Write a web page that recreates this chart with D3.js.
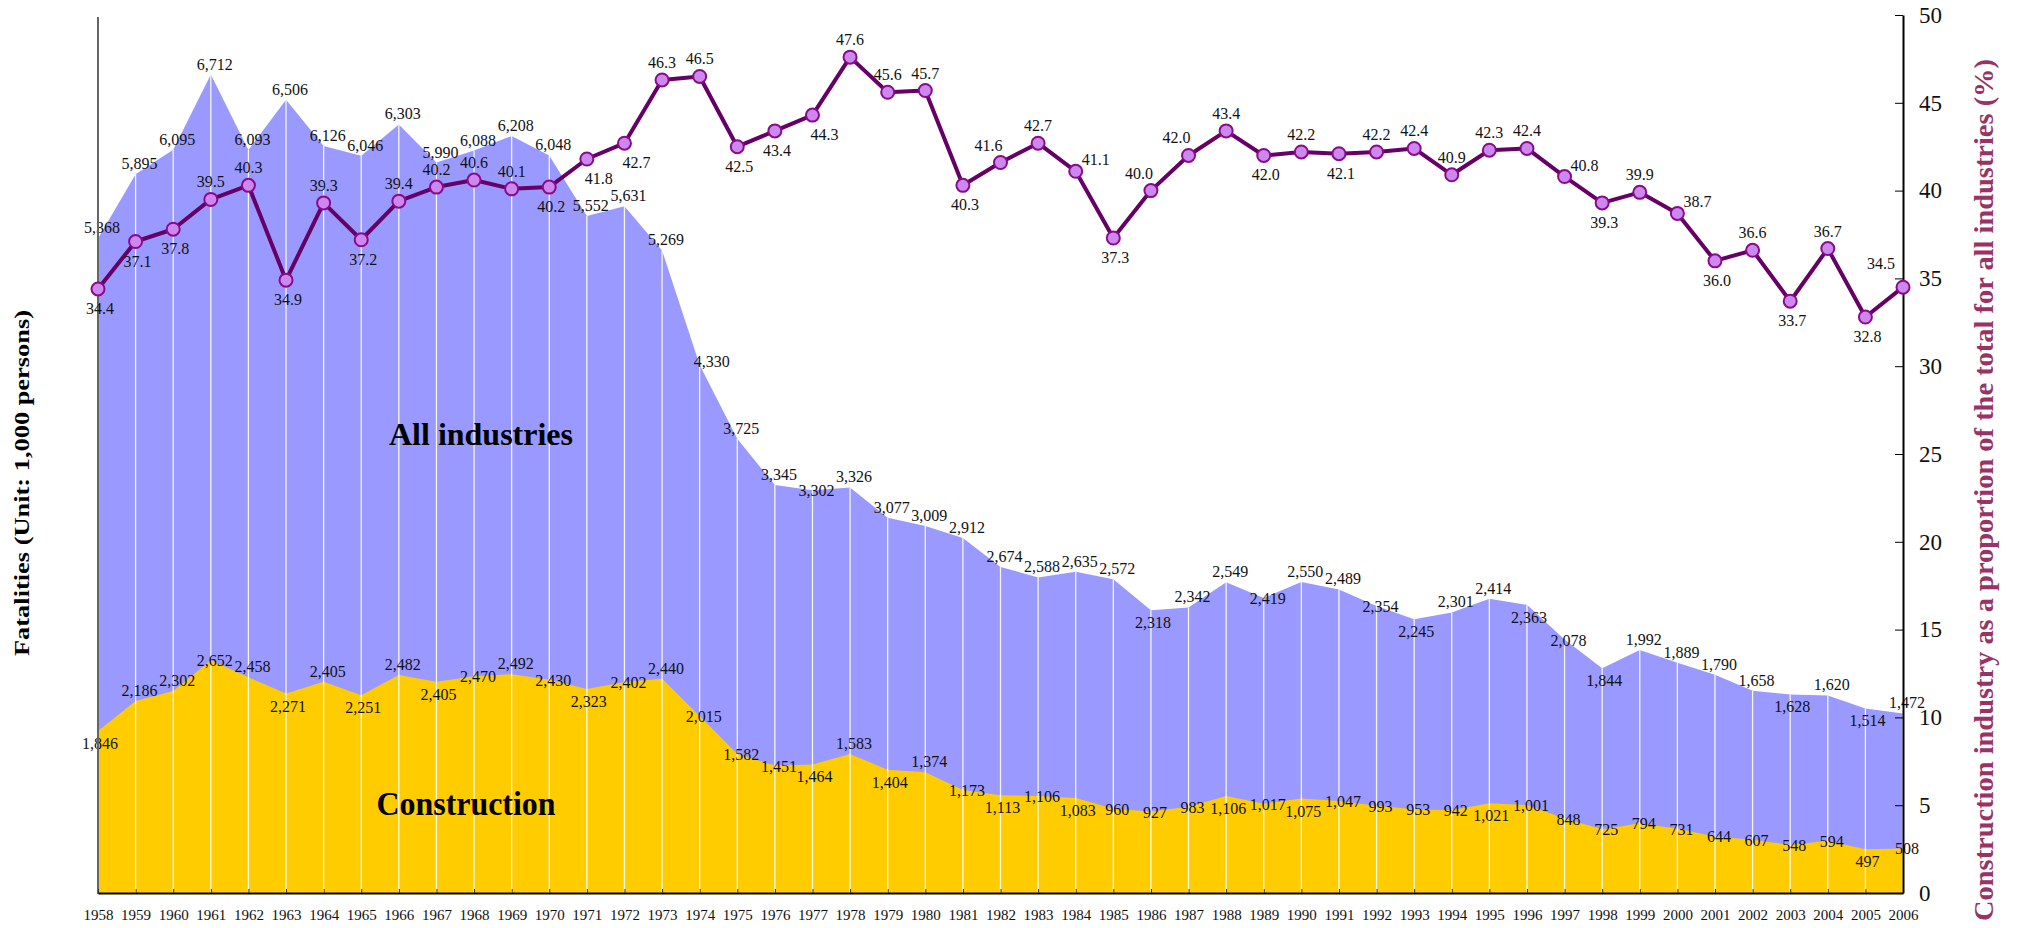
<!DOCTYPE html>
<html><head><meta charset="utf-8">
<script src="https://cdn.jsdelivr.net/npm/d3@7"></script>
<style>
html,body{margin:0;padding:0;background:#fff;}
svg{display:block;font-family:"Liberation Serif","Times New Roman",serif;}
</style></head>
<body>
<svg id="chart" width="2017" height="928"></svg>
<script>
const years = d3.range(1958, 2007);
const allIndustries = [5368,5895,6095,6712,6093,6506,6126,6046,6303,5990,6088,6208,6048,5552,5631,5269,4330,3725,3345,3302,3326,3077,3009,2912,2674,2588,2635,2572,2318,2342,2549,2419,2550,2489,2354,2245,2301,2414,2363,2078,1844,1992,1889,1790,1658,1628,1620,1514,1472];
const construction = [1846,2186,2302,2652,2458,2271,2405,2251,2482,2405,2470,2492,2430,2323,2402,2440,2015,1582,1451,1464,1583,1404,1374,1173,1113,1106,1083,960,927,983,1106,1017,1075,1047,993,953,942,1021,1001,848,725,794,731,644,607,548,594,497,508];
const sharePct = [34.4,37.1,37.8,39.5,40.3,34.9,39.3,37.2,39.4,40.2,40.6,40.1,40.2,41.8,42.7,46.3,46.5,42.5,43.4,44.3,47.6,45.6,45.7,40.3,41.6,42.7,41.1,37.3,40.0,42.0,43.4,42.0,42.2,42.1,42.2,42.4,40.9,42.3,42.4,40.8,39.3,39.9,38.7,36.0,36.6,33.7,36.7,32.8,34.5];
const rightTicks = [0,5,10,15,20,25,30,35,40,45,50];

// label placement codes (style only)
const allSide = ["a","a","a","a","a","a","a","a","a","a","a","a","a","a","a","a","r","a","a","m","a","a","a","a","a","a","a","a","b","a","a","m","a","a","m","b","a","a","b","m","b","a","a","a","a","b","a","b","a"];
const conSide = ["b","a","a","m","a","b","a","b","a","b","m","a","m","b","m","a","m","m","m","b","a","b","a","m","b","m","b","m","m","m","b","m","b","m","m","m","m","b","m","m","m","m","m","m","m","m","m","b","m"];
const pctSide = ["b","b","b","a","a","b","a","b","a","a","a","a","b","br","br","a","a","b","b","br","a","a","a","b","al","a","ar","b","al","al","a","b","a","b","a","a","a","a","a","ar","b","a","ar","b","a","b","a","b","al2"];

const svg = d3.select("#chart");
const L = 98, R = 1903, B = 893, T = 15;
const x = d3.scaleLinear().domain([1958, 2006]).range([L, R]);
const yAll = d3.scaleLinear().domain([0, 7200]).range([B, T]);
const yCon = d3.scaleLinear().domain([0, 10000]).range([B, T]);
const yPct = d3.scaleLinear().domain([0, 50]).range([B, T]);

const rows = years.map((yr, i) => ({yr, all: allIndustries[i], con: construction[i], pct: sharePct[i], i}));
const fmt = d3.format(",");

// areas
svg.append("path").datum(rows)
  .attr("fill", "#9999ff")
  .attr("d", d3.area().x(d => x(d.yr)).y0(B).y1(d => yAll(d.all)));
svg.append("path").datum(rows)
  .attr("fill", "#ffcc00")
  .attr("d", d3.area().x(d => x(d.yr)).y0(B).y1(d => yCon(d.con)));

// white vertical lines
svg.append("g").selectAll("line").data(rows).join("line")
  .attr("x1", d => x(d.yr)).attr("x2", d => x(d.yr))
  .attr("y1", B).attr("y2", d => yAll(d.all))
  .attr("stroke", "#ffffff").attr("stroke-width", 1.3).attr("opacity", 0.9);

// category labels
svg.append("text").attr("x", 481).attr("y", 445).attr("text-anchor", "middle")
  .attr("font-weight", "bold").attr("font-size", 32)
  .attr("textLength", 184).attr("lengthAdjust", "spacingAndGlyphs")
  .text("All industries");
svg.append("text").attr("x", 466).attr("y", 815).attr("text-anchor", "middle")
  .attr("font-weight", "bold").attr("font-size", 33)
  .attr("textLength", 179).attr("lengthAdjust", "spacingAndGlyphs")
  .text("Construction");

// data labels
function sideOffset(code) {
  switch (code) {
    case "a": return [4, -5];
    case "b": return [2, 18];
    case "m": return [4, 6];
    case "r": return [12, 2];
    default: return [0, 0];
  }
}
svg.append("g").attr("font-size", 16).attr("fill", "#111").attr("text-anchor", "middle")
  .selectAll("text").data(rows).join("text")
  .attr("x", d => x(d.yr) + sideOffset(allSide[d.i])[0])
  .attr("y", d => yAll(d.all) + sideOffset(allSide[d.i])[1])
  .text(d => fmt(d.all));
svg.append("g").attr("font-size", 16).attr("fill", "#111").attr("text-anchor", "middle")
  .selectAll("text").data(rows).join("text")
  .attr("x", d => x(d.yr) + sideOffset(conSide[d.i])[0])
  .attr("y", d => yCon(d.con) + sideOffset(conSide[d.i])[1])
  .text(d => fmt(d.con));

// axes
svg.append("line").attr("x1", L).attr("x2", L).attr("y1", 17).attr("y2", B + 1)
  .attr("stroke", "#666").attr("stroke-width", 2);
const xAxis = d3.axisBottom(x).tickValues(years).tickFormat(d3.format("d")).tickSizeInner(-4).tickSizeOuter(0).tickPadding(16);
const gx = svg.append("g").attr("transform", `translate(0,${B})`).call(xAxis);
gx.select(".domain").attr("stroke", "#000").attr("stroke-width", 2);
gx.selectAll(".tick line").attr("stroke", "#333");
gx.selectAll(".tick text").attr("font-size", 15).attr("font-family", "Liberation Serif").attr("fill", "#111");

const yAxisR = d3.axisRight(yPct).tickValues(rightTicks).tickSizeInner(-8).tickSizeOuter(0).tickPadding(16);
const gy = svg.append("g").attr("transform", `translate(${R},0)`).call(yAxisR);
gy.select(".domain").attr("stroke", "#000").attr("stroke-width", 2);
gy.selectAll(".tick line").attr("stroke", "#000");
gy.selectAll(".tick text").attr("font-size", 23).attr("font-family", "Liberation Serif").attr("fill", "#111");

// percentage line
svg.append("path").datum(rows)
  .attr("fill", "none").attr("stroke", "#660066").attr("stroke-width", 4).attr("stroke-linejoin", "round")
  .attr("d", d3.line().x(d => x(d.yr)).y(d => yPct(d.pct)));
svg.append("g").selectAll("circle").data(rows).join("circle")
  .attr("cx", d => x(d.yr)).attr("cy", d => yPct(d.pct)).attr("r", 6.5)
  .attr("fill", "#cc88ee").attr("stroke", "#8a0a8a").attr("stroke-width", 2);

function pctOffset(code) {
  switch (code) {
    case "a": return [0, -12];
    case "b": return [2, 25];
    case "ar": return [20, -6];
    case "br": return [12, 25];
    case "al": return [-12, -12];
    case "al2": return [-22, -18];
    default: return [0, 0];
  }
}
svg.append("g").attr("font-size", 16).attr("fill", "#111").attr("text-anchor", "middle")
  .selectAll("text").data(rows).join("text")
  .attr("x", d => x(d.yr) + pctOffset(pctSide[d.i])[0])
  .attr("y", d => yPct(d.pct) + pctOffset(pctSide[d.i])[1])
  .text(d => d3.format(".1f")(d.pct));

// axis titles
svg.append("text").attr("transform", "translate(29,483) rotate(-90)")
  .attr("text-anchor", "middle").attr("font-weight", "bold").attr("font-size", 21)
  .attr("textLength", 346).attr("lengthAdjust", "spacingAndGlyphs")
  .attr("fill", "#000").text("Fatalities (Unit: 1,000 persons)");
svg.append("text").attr("transform", "translate(1993,490) rotate(-90)")
  .attr("text-anchor", "middle").attr("font-weight", "bold").attr("font-size", 27)
  .attr("textLength", 862).attr("lengthAdjust", "spacingAndGlyphs")
  .attr("fill", "#993366").text("Construction industry as a proportion of the total for all industries (%)");
</script>
</body></html>
